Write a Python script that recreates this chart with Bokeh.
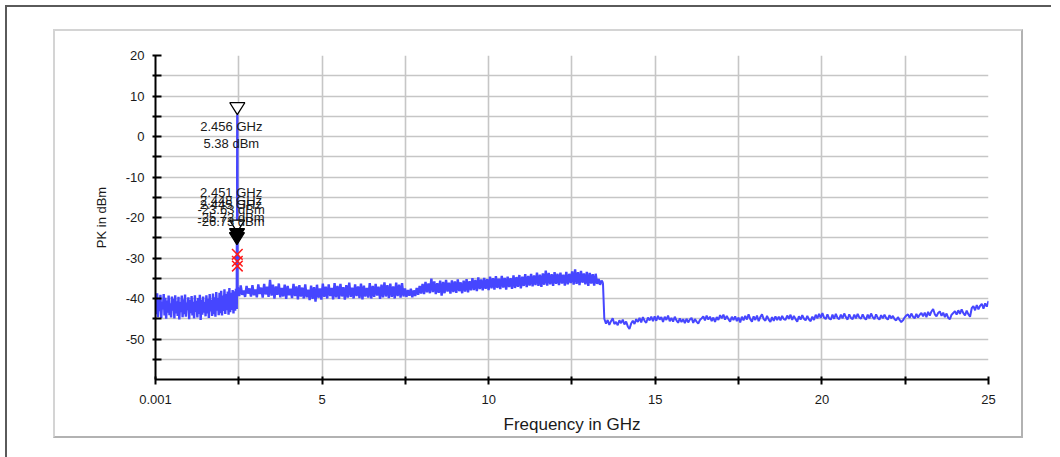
import numpy as np
from bokeh.plotting import figure
from bokeh.layouts import column
from bokeh.models import FixedTicker, ColumnDataSource, Range1d
from bokeh.core.properties import value
from bokeh.embed import file_html
from bokeh.resources import INLINE

# ---------------- data ----------------
x_tick_values = [0.001, 5, 10, 15, 20, 25]
x_tick_labels = ["0.001", "5", "10", "15", "20", "25"]
x_minor_values = [2.5, 7.5, 12.5, 17.5, 22.5]
y_tick_values = [-50, -40, -30, -20, -10, 0, 10, 20]
y_tick_labels = ["-50", "-40", "-30", "-20", "-10", "0", "10", "20"]
y_minor_values = [-55, -45, -35, -25, -15, -5, 5, 15]

# sweep segment A: 0.001 .. 2.44 GHz
level_a = [
    -39.6, -43.9, -38.7, -44.6, -40.2, -43.1, -39.1, -44.8, -40.8, -42.7,
    -38.9, -44.2, -39.8, -45.0, -40.5, -43.5, -39.3, -44.1, -41.2, -44.7,
    -39.5, -43.0, -40.1, -44.9, -39.2, -43.7, -40.7, -44.3, -39.6, -45.2,
    -40.9, -43.4, -39.3, -44.6, -40.2, -43.9, -39.0, -44.5, -41.0, -42.9,
    -39.7, -45.1, -40.4, -43.6, -39.4, -44.2, -40.8, -44.9, -39.2, -43.3,
    -40.6, -44.7, -39.9, -43.8, -39.1, -45.3, -40.3, -44.0, -39.5, -43.5,
    -40.9, -44.4, -39.2, -43.7, -40.1, -44.8, -38.9, -43.2, -40.4, -44.3,
    -38.8, -43.9, -39.7, -44.5, -38.4, -43.0, -39.9, -44.1, -38.6, -43.6,
    -38.1, -44.2, -39.3, -43.1, -37.7, -43.8, -38.9, -42.9, -38.3, -44.0,
    -37.4, -43.4, -38.6, -42.8, -37.9, -43.7, -38.2, -43.0, -37.6, -42.6,
]
freq_a = np.linspace(0.001, 2.44, len(level_a))

# carrier around 2.45 GHz
spike_freq = [2.445, 2.448, 2.451, 2.456, 2.462]
spike_level = [-26.73, -25.72, -23.63, 5.38, -37.8]

# sweep segment B: 2.47 .. 13.43 GHz
level_b = [
    -37.2, -39.4, -36.8, -39.1, -38.0, -39.6, -36.9, -38.8, -37.5, -39.5,
    -36.7, -39.2, -37.8, -39.7, -36.5, -38.9, -37.3, -39.8, -36.4, -39.0,
    -37.1, -39.6, -35.4, -39.3, -36.6, -40.0, -37.0, -39.1, -36.3, -39.7,
    -37.4, -39.5, -36.6, -40.1, -36.9, -39.2, -37.6, -39.9, -36.4, -39.4,
    -37.0, -40.2, -36.7, -39.5, -37.3, -40.0, -36.5, -39.7, -37.8, -40.4,
    -36.8, -40.1, -37.2, -40.8, -36.6, -39.8, -37.5, -40.3, -36.3, -39.6,
    -37.1, -40.0, -36.5, -39.4, -37.4, -40.2, -36.2, -39.7, -36.9, -40.1,
    -36.4, -39.5, -37.2, -40.3, -36.7, -39.8, -36.1, -39.6, -37.3, -40.0,
    -36.5, -39.4, -37.0, -39.9, -36.3, -40.2, -36.8, -39.5, -37.4, -39.8,
    -36.2, -40.0, -36.9, -39.6, -36.4, -39.3, -37.1, -40.1, -36.6, -39.7,
    -36.0, -39.5, -36.7, -39.9, -36.3, -39.6, -37.0, -40.0, -36.1, -39.4,
    -36.6, -39.8, -36.2, -39.5, -37.5, -39.6, -37.9, -39.3, -37.6, -39.7,
    -38.0, -39.4, -37.4, -39.1, -36.9, -38.8, -36.4, -38.9, -35.9, -38.5,
    -36.3, -38.7, -35.1, -38.4, -35.8, -38.9, -36.2, -38.6, -35.6, -39.3,
    -35.9, -38.7, -35.4, -38.3, -36.1, -38.8, -35.5, -38.4, -35.8, -38.6,
    -35.3, -38.2, -36.0, -38.7, -35.6, -38.3, -35.2, -38.5, -35.7, -38.0,
    -35.0, -37.9, -35.4, -38.2, -34.8, -37.7, -35.3, -38.0, -34.9, -37.6,
    -35.2, -37.9, -34.6, -37.5, -35.0, -37.8, -34.5, -37.4, -35.1, -37.7,
    -34.4, -37.3, -34.9, -37.8, -34.6, -37.2, -35.0, -37.6, -34.3, -37.4,
    -34.7, -37.1, -34.2, -37.5, -34.6, -36.9, -34.0, -37.2, -34.4, -36.8,
    -33.9, -37.0, -34.3, -36.7, -33.6, -36.9, -34.1, -37.1, -33.8, -36.6,
    -33.1, -36.8, -33.7, -36.5, -34.0, -36.9, -33.5, -36.4, -33.9, -36.7,
    -33.6, -36.3, -34.1, -36.8, -33.4, -36.5, -33.9, -36.2, -33.3, -36.6,
    -32.8, -36.4, -33.5, -36.7, -33.2, -36.1, -33.8, -36.5, -33.4, -36.9,
    -33.7, -36.3, -34.0, -36.8, -33.9, -36.4, -35.2, -36.6, -35.6, -36.2,
]
freq_b = np.linspace(2.47, 13.43, len(level_b))

# sweep segment C: 13.47 .. 25 GHz
level_c = [
    -45.0, -46.2, -45.3, -46.5, -45.6, -44.9, -46.3, -45.8, -46.6, -45.4,
    -46.1, -45.2, -46.4, -45.7, -46.9, -47.5, -46.2, -45.5, -46.3, -45.1,
    -45.8, -44.8, -45.9, -44.6, -45.5, -46.0, -44.7, -45.4, -44.5, -45.6,
    -44.4, -45.5, -44.3, -45.2, -44.6, -45.8, -44.5, -45.3, -44.2, -45.6,
    -44.8, -45.7, -44.5, -45.4, -46.0, -44.9, -45.8, -45.1, -46.1, -45.0,
    -45.9, -45.2, -44.8, -46.0, -45.1, -45.7, -46.2, -45.3, -44.9, -44.4,
    -45.4, -44.2, -45.2, -44.5, -45.6, -44.7, -45.8, -44.6, -45.3, -44.1,
    -44.9, -44.0, -45.2, -44.3, -45.1, -45.7, -44.5, -45.3, -44.4, -45.6,
    -44.7, -45.9, -44.5, -45.4, -44.3, -45.2, -43.9, -45.1, -45.7, -44.4,
    -45.3, -44.2, -45.6, -44.6, -43.9, -45.1, -45.5, -44.3, -45.2, -45.8,
    -44.6, -45.5, -44.4, -45.3, -44.5, -45.4, -44.3, -45.1, -45.3, -44.2,
    -45.0, -44.0, -45.3, -44.3, -45.1, -45.7, -44.4, -45.2, -44.1, -45.0,
    -45.4, -44.3, -45.2, -45.6, -44.5, -45.3, -44.0, -44.9, -43.8, -44.8,
    -43.6, -44.7, -45.1, -43.9, -44.9, -45.2, -44.0, -45.0, -43.8, -44.8,
    -45.1, -44.0, -44.9, -43.7, -44.6, -45.2, -43.9, -44.8, -45.1, -44.0,
    -44.9, -43.8, -44.7, -45.0, -43.9, -44.8, -45.2, -44.0, -44.9, -43.7,
    -44.6, -45.1, -43.9, -44.8, -45.2, -44.1, -44.9, -44.0, -44.8, -45.2,
    -44.1, -44.9, -44.3, -45.1, -45.4, -44.6, -45.3, -45.8, -45.4, -44.7,
    -44.2, -43.9, -44.8, -43.7, -44.5, -44.9, -43.8, -44.7, -44.0, -43.6,
    -44.4, -43.5, -44.6, -43.3, -44.2, -43.2, -42.6, -43.9, -44.4, -43.6,
    -43.2, -44.3, -43.5, -44.6, -43.7, -44.8, -45.1, -44.0, -43.6, -43.1,
    -44.0, -42.9, -43.8, -42.7, -43.6, -44.2, -43.0, -43.9, -44.5, -42.4,
    -41.9, -42.9, -41.6, -42.7, -41.8, -41.3, -42.5, -41.2, -42.0, -40.6,
]
freq_c = np.linspace(13.47, 25.0, len(level_c))

# markers
marker_freq = [2.456, 2.451, 2.448, 2.445]
marker_level = [5.38, -23.63, -25.72, -26.73]
marker_filled = [False, False, True, True]

# peak list crosses
cross_freq = [2.456, 2.457, 2.458]
cross_level = [-29.1, -30.8, -32.0]
dot_freq = [2.456]
dot_level = [-30.0]

x_title = "Frequency in GHz"
y_title = "PK in dBm"

# ---------------- styling ----------------
FONT = "Liberation Sans"
TRACE = "#4646ff"
GRID = "#c6c6c6"
TXT = "#1a1a1a"

# host element is border-box: 2px borders eat into width/height
p = figure(width=970, height=409, output_backend="svg", toolbar_location=None,
           x_range=Range1d(0.001, 25), y_range=Range1d(-60, 20),
           min_border_left=100, min_border_right=37,
           min_border_top=24, min_border_bottom=61,
           margin=(22, 0, 0, 46),
           styles={"border-top": "2px solid #d4d4d4",
                   "border-left": "2px solid #d4d4d4",
                   "border-right": "2px solid #b2b2b2",
                   "border-bottom": "2px solid #b2b2b2"})
p.outline_line_color = None
p.background_fill_color = "white"
p.border_fill_color = "white"

# axes
xt = FixedTicker(ticks=x_tick_values, minor_ticks=x_minor_values)
yt = FixedTicker(ticks=y_tick_values, minor_ticks=y_minor_values)
p.xaxis.ticker = xt
p.yaxis.ticker = yt
p.xgrid.ticker = xt
p.ygrid.ticker = yt
p.xaxis.major_label_overrides = {v: s for v, s in zip(x_tick_values, x_tick_labels)}
p.yaxis.major_label_overrides = {v: s for v, s in zip(y_tick_values, y_tick_labels)}

for g in (p.xgrid, p.ygrid):
    g.grid_line_color = GRID
    g.grid_line_width = 1.6
    g.minor_grid_line_color = GRID
    g.minor_grid_line_width = 1.6

for ax in (p.xaxis, p.yaxis):
    ax.axis_line_color = "black"
    ax.axis_line_width = 2
    ax.major_tick_line_color = "black"
    ax.minor_tick_line_color = "black"
    ax.major_tick_line_width = 2
    ax.minor_tick_line_width = 2
    ax.major_label_text_font = FONT
    ax.major_label_text_font_size = "13px"
    ax.major_label_text_color = TXT
    ax.axis_label_text_font = FONT
    ax.axis_label_text_font_style = "normal"
    ax.axis_label_text_color = TXT

p.xaxis.major_tick_in = 3
p.xaxis.major_tick_out = 5
p.xaxis.minor_tick_in = 3
p.xaxis.minor_tick_out = 5
p.xaxis.major_label_standoff = 10
p.xaxis.axis_label = x_title
p.xaxis.axis_label_text_font_size = "17px"
p.xaxis.axis_label_standoff = 8

p.yaxis.major_tick_in = 6
p.yaxis.major_tick_out = 3
p.yaxis.minor_tick_in = 6
p.yaxis.minor_tick_out = 3
p.yaxis.major_label_standoff = 8
p.yaxis.axis_label = y_title
p.yaxis.axis_label_text_font_size = "13px"
p.yaxis.axis_label_standoff = 14

# trace: dense part (A, carrier, B) and upper band part (C)
x1 = np.concatenate([freq_a, spike_freq, freq_b])
y1 = np.concatenate([level_a, spike_level, level_b])
x2 = np.concatenate([freq_b[-1:], freq_c])
y2 = np.concatenate([level_b[-1:], level_c])
p.line(x1, y1, line_color=TRACE, line_width=2.4)
p.line(x2, y2, line_color=TRACE, line_width=2)

# red crosses and dot
p.scatter(dot_freq, dot_level, marker="circle", size=5, fill_color=TRACE, line_color=TRACE)
p.scatter(cross_freq, cross_level, marker="x", size=15, line_color="#ff1a1a", line_width=1.5)

# marker triangles (tip on the marker value)
TRI_W = 0.45   # GHz
TRI_H = 2.96   # dB
for filled_state in (False, True):
    xs, ys = [], []
    for f, v, fl in zip(marker_freq, marker_level, marker_filled):
        if fl == filled_state:
            xs.append([f - TRI_W / 2, f + TRI_W / 2, f])
            ys.append([v + TRI_H, v + TRI_H, v])
    p.patches(xs, ys, fill_color="black" if filled_state else "white",
              line_color="black", line_width=1.3)

# marker labels
lab_x, lab_y, lab_t, lab_off = [], [], [], []
for i, (f, v) in enumerate(zip(marker_freq, marker_level)):
    offs = (11.5, 28.5) if i == 0 else (-40, -23)
    lab_x += [f, f]
    lab_y += [v, v]
    lab_t += [f"{f:.3f} GHz", f"{v:.2f} dBm"]
    lab_off += list(offs)
src = ColumnDataSource(dict(x=lab_x, y=lab_y, t=lab_t, off=lab_off))
p.text(x="x", y="y", text="t", y_offset="off", x_offset=-6, source=src,
       text_align="center", text_baseline="middle",
       text_font=value(FONT), text_font_size="13px", text_color=TXT)

root = column(p, width=1046, height=452, margin=(5, 0, 0, 5),
              styles={"border-left": "2px solid #5a5a5a",
                      "border-top": "2px solid #5a5a5a"})

open("out.html", "w").write(file_html(root, INLINE))
